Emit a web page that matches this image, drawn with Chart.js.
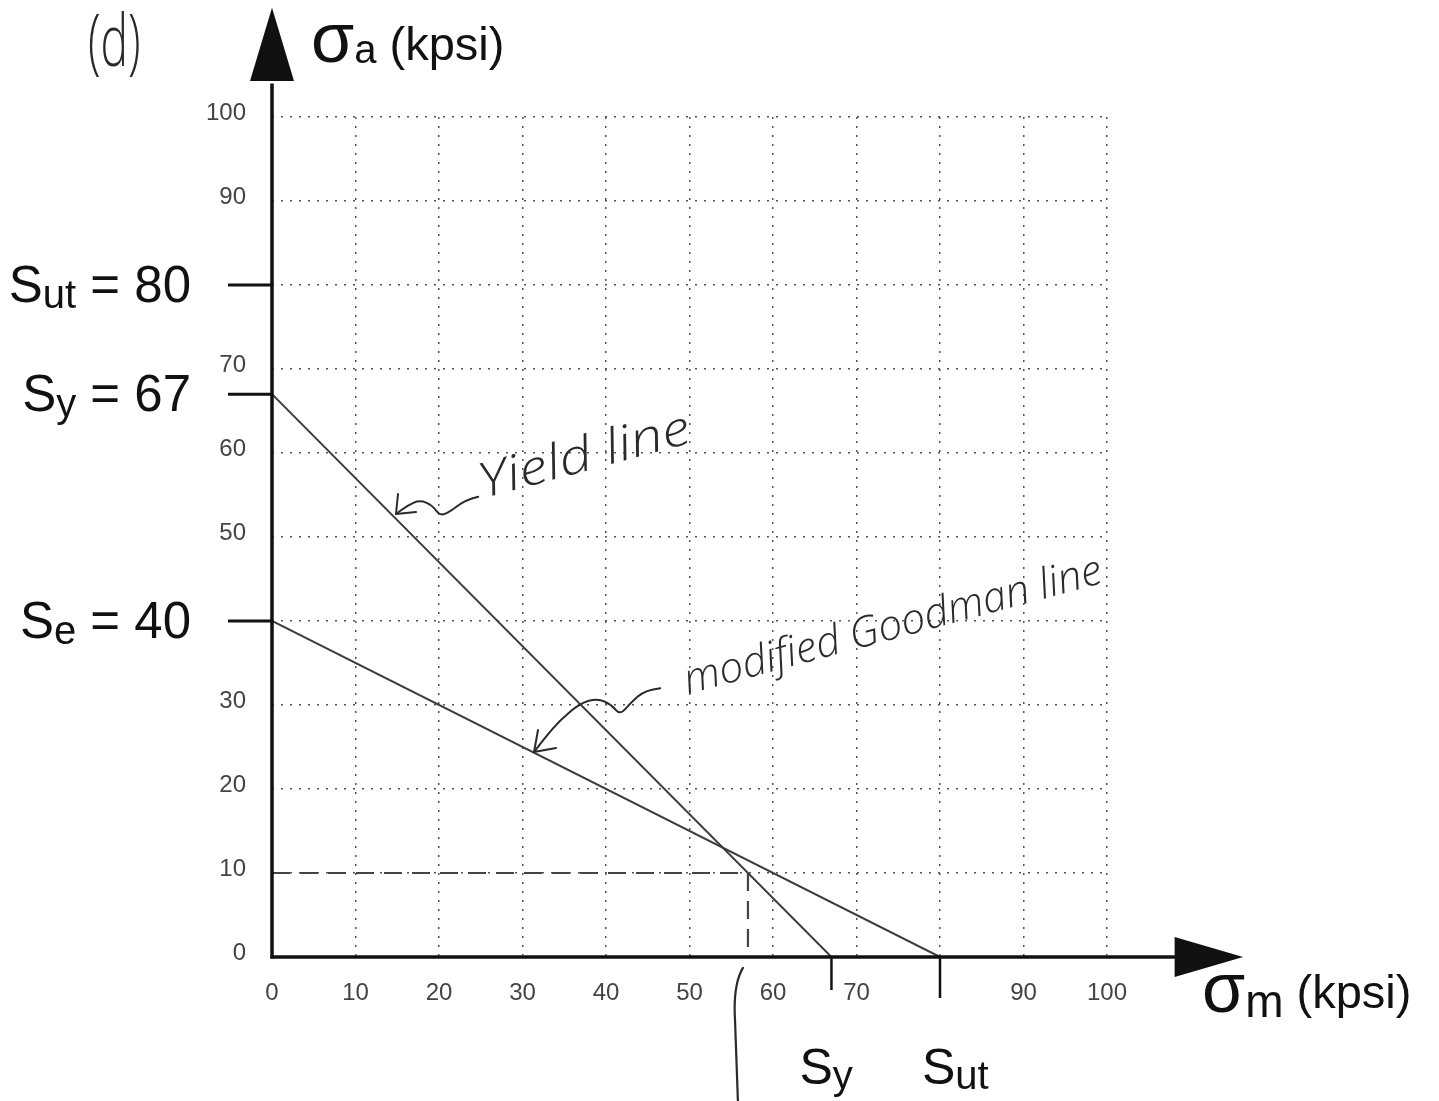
<!DOCTYPE html>
<html><head><meta charset="utf-8">
<script src="https://cdn.jsdelivr.net/npm/chart.js"></script>
<style>html,body{margin:0;padding:0;background:#fff;}canvas{display:block;}</style>
</head><body>
<canvas id="c" width="1439" height="1101"></canvas>
<script>
// ---- data ----
const xTickLabels = [0, 10, 20, 30, 40, 50, 60, 70, 90, 100];
const yTickLabels = [0, 10, 20, 30, 50, 60, 70, 90, 100];
const yieldX = [0, 67];
const yieldY = [67, 0];
const goodmanX = [0, 80];
const goodmanY = [40, 0];
const loadX = [0, 57, 57];
const loadY = [10, 10, 0];
const yMarkerValues = [80, 67, 40];
const yMarkerSubs = ['ut', 'y', 'e'];
const xMarkerValues = [67, 80];
const xMarkerSubs = ['y', 'ut'];
// annotation arrow paths (data units)
const yieldArrowX = [24.7, 23.1, 21.3, 20.1, 19.2, 17.7, 16.3, 14.85];
const yieldArrowY = [54.8, 54.4, 53.0, 52.5, 53.8, 54.4, 53.8, 52.74];
const goodArrowX = [46.5, 44.7, 42.9, 41.7, 40.7, 39.0, 36.9, 34.5, 32.7, 31.38];
const goodArrowY = [32.0, 31.8, 30.2, 28.8, 30.0, 30.8, 30.2, 28.2, 26.1, 24.4];

const FONT = "'Liberation Sans', Arial, Helvetica, sans-serif";
const HAND = "'Open Sans', 'DejaVu Sans', sans-serif";
Chart.defaults.font.family = FONT;

function pts(xs, ys) { return xs.map((x, i) => ({x, y: ys[i]})); }

function drawParts(ctx, parts, x, baseline, alignRight) {
  let total = 0;
  parts.forEach(p => { ctx.font = p.size + 'px ' + FONT; p.w = ctx.measureText(p.t).width; total += p.w; });
  let cx = alignRight ? x - total : x;
  ctx.textAlign = 'left';
  ctx.textBaseline = 'alphabetic';
  parts.forEach(p => { ctx.font = p.size + 'px ' + FONT; ctx.fillText(p.t, cx, baseline + (p.dy || 0)); cx += p.w; });
}

const deco = {
  id: 'deco',
  beforeDraw(chart) {
    const c = chart.ctx;
    c.save(); c.fillStyle = '#fff'; c.fillRect(0, 0, chart.width, chart.height); c.restore();
  },
  afterDraw(chart) {
    const ctx = chart.ctx;
    const xs = chart.scales.x, ys = chart.scales.y;
    const X = v => xs.getPixelForValue(v), Y = v => ys.getPixelForValue(v);
    const x0 = X(0), y0 = Y(0);
    ctx.save();
    ctx.strokeStyle = '#111'; ctx.fillStyle = '#111';
    ctx.lineCap = 'butt';
    // axes
    ctx.lineWidth = 3.5;
    ctx.beginPath(); ctx.moveTo(x0, y0 + 1.5); ctx.lineTo(x0, Y(104)); ctx.stroke();
    ctx.beginPath(); ctx.moveTo(x0 - 1.5, y0); ctx.lineTo(X(108.5), y0); ctx.stroke();
    // arrows
    ctx.beginPath(); ctx.moveTo(x0, Y(113)); ctx.lineTo(x0 - 22, Y(104.3)); ctx.lineTo(x0 + 22, Y(104.3)); ctx.closePath(); ctx.fill();
    ctx.beginPath(); ctx.moveTo(X(116.3), y0); ctx.lineTo(X(108.1), y0 - 20); ctx.lineTo(X(108.1), y0 + 20); ctx.closePath(); ctx.fill();
    // y markers
    ctx.lineWidth = 3;
    yMarkerValues.forEach((v, i) => {
      const py = Y(v);
      ctx.beginPath(); ctx.moveTo(228, py); ctx.lineTo(x0, py); ctx.stroke();
      drawParts(ctx, [{t: 'S', size: 51}, {t: yMarkerSubs[i], size: 40, dy: 6}, {t: ' = ' + v, size: 51}], 191, py + 17, true);
    });
    // x markers
    ctx.lineWidth = 2.5;
    const xTickEnd = [990, 998];
    const xLabelOff = [-32, -18];
    xMarkerValues.forEach((v, i) => {
      const px = X(v);
      ctx.beginPath(); ctx.moveTo(px, y0); ctx.lineTo(px, xTickEnd[i]); ctx.stroke();
      drawParts(ctx, [{t: 'S', size: 50}, {t: xMarkerSubs[i], size: 40, dy: 5}], px + xLabelOff[i], 1084, false);
    });
    // axis titles
    ctx.fillStyle = '#111';
    drawParts(ctx, [{t: 'σ', size: 70}, {t: 'a', size: 40, dy: 1}, {t: ' (kpsi)', size: 47, dy: -2}], 311, 62, false);
    drawParts(ctx, [{t: 'σ', size: 70}, {t: 'm', size: 46, dy: 5}, {t: ' (kpsi)', size: 47, dy: -4}], 1202, 1012, false);

    // handwritten annotations
    ctx.strokeStyle = '#2a2a2a'; ctx.fillStyle = '#2a2a2a';
    ctx.lineWidth = 2; ctx.lineJoin = 'round'; ctx.lineCap = 'round';
    function path(xa, ya) {
      ctx.beginPath();
      ctx.moveTo(X(xa[0]), Y(ya[0]));
      for (let i = 1; i < xa.length - 1; i++) {
        const mx = (X(xa[i]) + X(xa[i + 1])) / 2, my = (Y(ya[i]) + Y(ya[i + 1])) / 2;
        ctx.quadraticCurveTo(X(xa[i]), Y(ya[i]), mx, my);
      }
      ctx.lineTo(X(xa[xa.length - 1]), Y(ya[ya.length - 1]));
      ctx.stroke();
    }
    path(yieldArrowX, yieldArrowY);
    let tx = X(yieldArrowX[yieldArrowX.length - 1]), ty = Y(yieldArrowY[yieldArrowY.length - 1]);
    ctx.beginPath(); ctx.moveTo(tx + 2, ty - 20); ctx.lineTo(tx, ty); ctx.lineTo(tx + 20, ty - 2); ctx.stroke();
    path(goodArrowX, goodArrowY);
    tx = X(goodArrowX[goodArrowX.length - 1]); ty = Y(goodArrowY[goodArrowY.length - 1]);
    ctx.beginPath(); ctx.moveTo(tx + 4, ty - 22); ctx.lineTo(tx, ty); ctx.lineTo(tx + 22, ty - 4); ctx.stroke();

    ctx.textAlign = 'left'; ctx.textBaseline = 'alphabetic';
    ctx.save();
    ctx.translate(X(25.3), Y(54.6)); ctx.rotate(-15 * Math.PI / 180); ctx.scale(1.25, 1.05);
    ctx.font = 'italic 300 46px ' + HAND; ctx.fillText('Yield line', 0, 0);
    ctx.restore();
    ctx.save();
    ctx.translate(X(49.8), Y(31.3)); ctx.rotate(-15 * Math.PI / 180); ctx.scale(1.06, 1.05);
    ctx.font = 'italic 300 40px ' + HAND; ctx.fillText('modified Goodman line', 0, 0);
    ctx.restore();
    ctx.save();
    ctx.translate(88, 66); ctx.scale(0.68, 1.05);
    ctx.font = '300 68px ' + HAND; ctx.fillText('(d)', 0, 0);
    ctx.restore();
    // bracket below x axis
    ctx.lineWidth = 2.2;
    ctx.beginPath(); ctx.moveTo(X(56.4), Y(-1.3));
    ctx.quadraticCurveTo(X(55.2), Y(-3.3), X(55.45), Y(-7.5));
    ctx.lineTo(X(55.8), Y(-17.2)); ctx.stroke();
    ctx.restore();
  }
};

const lineStyle = {showLine: true, pointRadius: 0, borderColor: '#3c3c3c', borderWidth: 2, fill: false};

new Chart(document.getElementById('c'), {
  type: 'scatter',
  data: {
    datasets: [
      Object.assign({label: 'Yield line', data: pts(yieldX, yieldY)}, lineStyle),
      Object.assign({label: 'Modified Goodman line', data: pts(goodmanX, goodmanY)}, lineStyle),
      Object.assign({label: 'Load', data: pts(loadX, loadY), borderDash: [18, 10]}, lineStyle, {borderColor: '#444', borderWidth: 2.2})
    ]
  },
  options: {
    responsive: false,
    animation: false,
    layout: {padding: {left: 0, right: 332, top: 117, bottom: 0}},
    plugins: {legend: {display: false}, tooltip: {enabled: false}},
    scales: {
      x: {
        type: 'linear', min: 0, max: 100,
        afterFit(s) { s.height = 144; },
        border: {display: false, dash: [2, 7]},
        grid: {color: '#555', lineWidth: 1.5, drawTicks: false},
        ticks: {stepSize: 10, padding: 22, color: '#444', font: {size: 24},
          maxRotation: 0, autoSkip: false,
          callback: v => xTickLabels.includes(v) ? String(v) : ''}
      },
      y: {
        type: 'linear', min: 0, max: 100,
        afterFit(s) { s.width = 272; },
        border: {display: false, dash: [2, 7]},
        grid: {color: '#555', lineWidth: 1.5, drawTicks: false},
        ticks: {stepSize: 10, padding: 26, color: '#444', font: {size: 24}, labelOffset: -4,
          autoSkip: false,
          callback: v => yTickLabels.includes(v) ? String(v) : ''}
      }
    }
  },
  plugins: [deco]
});
</script>
</body></html>
